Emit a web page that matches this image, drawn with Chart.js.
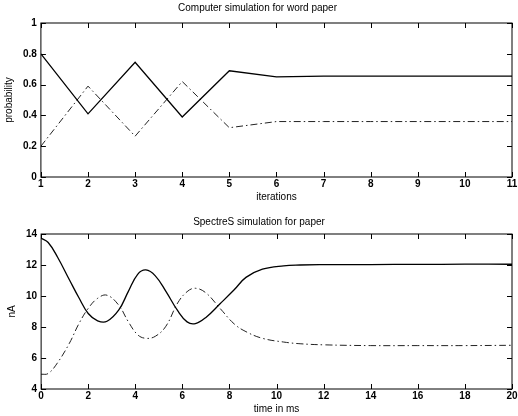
<!DOCTYPE html>
<html>
<head>
<meta charset="utf-8">
<script src="https://cdn.jsdelivr.net/npm/chart.js@4.4.0/dist/chart.umd.min.js"></script>
<style>
  html, body { margin: 0; padding: 0; background: #fff; overflow: hidden; }
  .box { position: absolute; left: 0; width: 530px; }
</style>
</head>
<body>
<div class="box" style="top:0;height:203px"><canvas id="graph-one"></canvas></div>
<div class="box" style="top:204px;height:211px"><canvas id="graph-two"></canvas></div>
<script>
// top plot: word paper
const iterations = [1, 2, 3, 4, 5, 6, 7, 8, 9, 10, 11];
const probSolid = [0.8, 0.41, 0.745, 0.39, 0.69, 0.65, 0.655, 0.655, 0.655, 0.655, 0.655];
const probDashed = [0.2, 0.59, 0.265, 0.62, 0.32, 0.36, 0.36, 0.36, 0.36, 0.36, 0.36];

// bottom plot: SpectreS
const timeMs = [0, 0.3, 0.7, 1.2, 1.6, 2.0, 2.4, 2.8, 3.3, 3.7, 4.1, 4.45, 4.85, 5.3, 5.8, 6.2, 6.55, 7.0, 7.6, 8.2, 8.7, 9.4, 10.3, 11, 12, 14, 16, 18, 20];
const nASolid = [13.72, 13.45, 12.5, 11.05, 9.9, 8.87, 8.4, 8.37, 9.1, 10.28, 11.4, 11.68, 11.3, 10.3, 9.05, 8.33, 8.22, 8.62, 9.5, 10.4, 11.2, 11.73, 11.95, 12.0, 12.02, 12.03, 12.04, 12.05, 12.05];
const nADashed = [4.95, 5.0, 5.7, 6.95, 8.2, 9.2, 9.85, 10.05, 9.4, 8.35, 7.5, 7.27, 7.4, 8.05, 9.55, 10.28, 10.5, 10.2, 9.2, 8.2, 7.7, 7.27, 7.03, 6.92, 6.85, 6.8, 6.8, 6.8, 6.82];

const font = "'Liberation Sans', Arial, sans-serif";
const tickFont = { family: font, size: 10, weight: "bold" };
const labelFont = { family: font, size: 10 };

// matlab style box with inward ticks on all sides
const boxTicks = {
  id: "boxTicks",
  afterDraw(chart) {
    const ctx = chart.ctx;
    const a = chart.chartArea;
    const x = chart.scales.x;
    const y = chart.scales.y;
    ctx.save();
    ctx.strokeStyle = "#000";
    ctx.lineWidth = 1;
    ctx.strokeRect(a.left, a.top, a.right - a.left, a.bottom - a.top);
    ctx.beginPath();
    x.ticks.forEach((t) => {
      const px = Math.round(x.getPixelForValue(t.value)) + 0.5;
      ctx.moveTo(px, a.bottom); ctx.lineTo(px, a.bottom - 5);
      ctx.moveTo(px, a.top); ctx.lineTo(px, a.top + 5);
    });
    y.ticks.forEach((t) => {
      const py = Math.round(y.getPixelForValue(t.value)) + 0.5;
      ctx.moveTo(a.left, py); ctx.lineTo(a.left + 5, py);
      ctx.moveTo(a.right, py); ctx.lineTo(a.right - 5, py);
    });
    ctx.stroke();
    ctx.restore();
  },
};

function toPoints(xs, ys) {
  return xs.map((v, i) => ({ x: v, y: ys[i] }));
}

function tickFmt(v) {
  return String(parseFloat(v.toFixed(1)));
}

function createChart(el, title, xs, solid, dashed, xRange, yRange, xLabel, yLabel, smooth, pad, titlePad) {
  const tension = smooth ? 0.4 : 0;
  return new Chart(el, {
    type: "line",
    data: {
      datasets: [
        {
          data: toPoints(xs, solid),
          borderColor: "#000",
          borderWidth: 1.3,
          pointRadius: 0,
          tension: tension,
        },
        {
          data: toPoints(xs, dashed),
          borderColor: "#222",
          borderWidth: 1,
          borderDash: [7, 3, 1.5, 3],
          pointRadius: 0,
          tension: tension,
        },
      ],
    },
    options: {
      animation: false,
      responsive: true,
      maintainAspectRatio: false,
      layout: { padding: pad },
      plugins: {
        legend: { display: false },
        tooltip: { enabled: false },
        title: {
          display: true,
          text: title,
          color: "#000",
          font: { family: font, size: 10, weight: "normal" },
          padding: titlePad,
        },
      },
      scales: {
        x: {
          type: "linear",
          min: xRange[0],
          max: xRange[1],
          grid: { display: false, drawTicks: false },
          border: { display: false },
          ticks: { stepSize: xRange[2], color: "#000", font: tickFont, padding: 1, maxRotation: 0, callback: tickFmt },
          title: { display: true, text: xLabel, color: "#000", font: labelFont, padding: { top: 0, bottom: 0 } },
        },
        y: {
          min: yRange[0],
          max: yRange[1],
          grid: { display: false, drawTicks: false },
          border: { display: false },
          ticks: { stepSize: yRange[2], color: "#000", font: tickFont, padding: 4, callback: tickFmt },
          title: { display: true, text: yLabel, color: "#000", font: labelFont, padding: { top: 0, bottom: 4 } },
        },
      },
    },
    plugins: [boxTicks],
  });
}

createChart(
  document.getElementById("graph-one"),
  "Computer simulation for word paper",
  iterations, probSolid, probDashed,
  [1, 11, 1], [0, 1, 0.2],
  "iterations", "probability", false,
  { left: 3, right: 18, top: 0, bottom: 0 },
  { top: 2, bottom: 9 }
);

createChart(
  document.getElementById("graph-two"),
  "SpectreS simulation for paper",
  timeMs, nASolid, nADashed,
  [0, 20, 2], [4, 14, 2],
  "time in ms", "nA", true,
  { left: 6, right: 18, top: 10, bottom: 0 },
  { top: 2, bottom: 6 }
);
</script>
</body>
</html>
